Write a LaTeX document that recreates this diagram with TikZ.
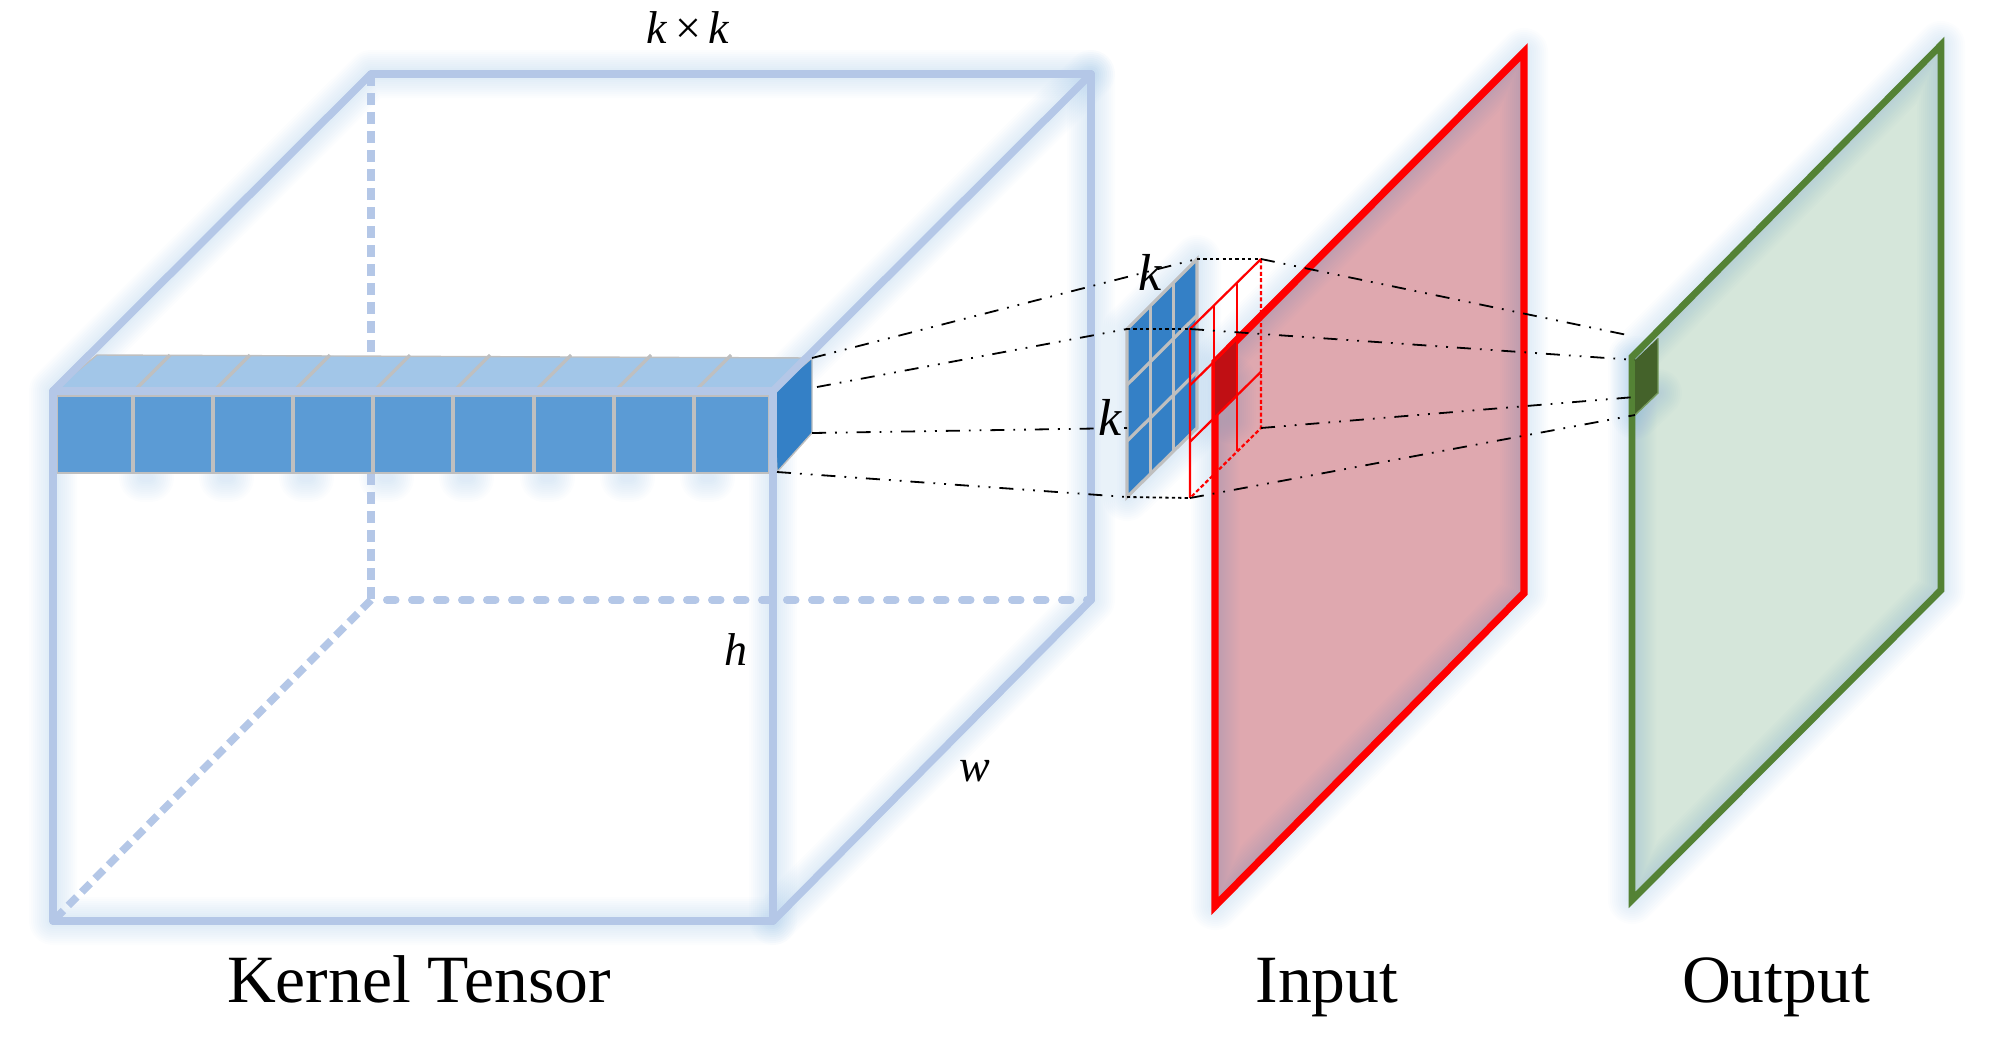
\documentclass[tikz,border=0pt]{standalone}
\usepackage{fontspec}
\setmainfont{Liberation Serif}
\usepackage{xcolor}
\usetikzlibrary{calc}
\definecolor{cubeblue}{HTML}{B4C7E7}
\definecolor{barblue}{HTML}{5B9BD5}
\definecolor{bartop}{HTML}{A2C6E8}
\definecolor{sideblue}{HTML}{3480C6}
\definecolor{gridgray}{HTML}{BFBFBF}
\definecolor{inputfill}{HTML}{DFA8AF}
\definecolor{outline}{HTML}{548235}
\definecolor{outputfill}{HTML}{D5E6DA}
\definecolor{darkgreen}{HTML}{44622A}
\definecolor{darkred}{HTML}{C00F14}
\newcommand{\glowpath}[1]{\foreach \w in {4,6,...,24} {\draw[glowline, line width=\w pt, shift={(7,10)}] #1;}}

\begin{document}
\begin{tikzpicture}[
    x=0.5pt, y=-0.5pt,
    cubeline/.style={draw=cubeblue, line width=3.8pt, line cap=round},
    cubedash/.style={draw=cubeblue, line width=3.8pt, dash pattern=on 6pt off 3.5pt},
    cubedots/.style={draw=cubeblue, line width=4pt, line cap=round, dash pattern=on 4.25pt off 8.25pt},
    gridline/.style={draw=gridgray, line width=1.6pt},
    barline/.style={draw=gridgray, line width=0.7pt},
    redline/.style={draw=red, line width=1.1pt},
    reddash/.style={draw=red, line width=1.1pt, dash pattern=on 2pt off 1.2pt},
    project/.style={draw=black, line width=0.9pt, dash pattern=on 7pt off 4.5pt on 0.9pt off 4.5pt on 0.9pt off 4.5pt},
    joinline/.style={draw=black, line width=0.9pt, dash pattern=on 1.6pt off 1.6pt},
    glowline/.style={draw=barblue, opacity=0.018, line join=round, line cap=round},
    caption/.style={font=\fontsize{33.8}{38}\selectfont, inner sep=0pt, anchor=base},
    dimlabel/.style={font=\fontsize{23}{26}\selectfont\itshape, inner sep=0pt},
    sizelabel/.style={font=\fontsize{26}{28}\selectfont\itshape, inner sep=0pt}
]
\useasboundingbox (0,0) rectangle (2006,1050);
% cube corners
\coordinate (ftl) at (53,391);
\coordinate (ftr) at (773,391);
\coordinate (fbl) at (53,921);
\coordinate (fbr) at (773,921);
\coordinate (btl) at (371,74);
\coordinate (btr) at (1091,74);
\coordinate (bbl) at (371,600);
\coordinate (bbr) at (1091,600);
% tube of the kernel tensor
\coordinate (side1) at (812,358);
\coordinate (side2) at (817,387);
\coordinate (side3) at (812,433);
\coordinate (side4) at (777,472);
% kernel
\coordinate (ka) at (1127,329);
\coordinate (kb) at (1197,259);
\coordinate (kc) at (1197,428);
\coordinate (kd) at (1127,497);
\coordinate (kl) at (1127,428);
% red window
\coordinate (ra) at (1190,329);
\coordinate (rb) at (1261,259);
\coordinate (rc) at (1261,428);
\coordinate (rd) at (1190,498);
% input plane
\coordinate (ia) at (1215,362);
\coordinate (ib) at (1524,52);
\coordinate (ic) at (1524,593);
\coordinate (id) at (1215,906);
% output plane
\coordinate (oa) at (1632,357);
\coordinate (ob) at (1941,45);
\coordinate (oc) at (1941,590);
\coordinate (od) at (1632,900);
% output pixel
\coordinate (ga) at (1635,360);
\coordinate (gb) at (1658,338);
\coordinate (gc) at (1658,393);
\coordinate (gd) at (1635,415);
\coordinate (gt) at (1632,336);
\coordinate (gm) at (1635,397);

% cube shadow
\glowpath{(fbl) -- (ftl) -- (btl) -- (btr) -- (bbr) -- (fbr) -- cycle}
\glowpath{(ftr) -- (btr)}
\glowpath{(ftr) -- (fbr)}
\foreach \i in {133,213,293,373,453,534,614,694} {
  \glowpath{(\i+3,468) -- (\i+10,468)}
}

% input and output planes
\fill[inputfill] (ia) -- (ib) -- (ic) -- (id) -- cycle;
\fill[outputfill] (oa) -- (ob) -- (oc) -- (od) -- cycle;
\glowpath{(ia) -- (ib) -- (ic) -- (id) -- cycle}
\glowpath{(oa) -- (ob) -- (oc) -- (od) -- cycle}
\glowpath{(ka) -- (kb) -- (kc) -- (kd) -- cycle}
\glowpath{(1225,370) -- (1225,410)}
\glowpath{(ga) -- (gd) -- (gc)}
\draw[red, line width=3.7pt, line join=miter] (ia) -- (ib) -- (ic) -- (id) -- cycle;
\draw[outline, line width=3.4pt, line join=miter] (oa) -- (ob) -- (oc) -- (od) -- cycle;

% hidden cube edges
\foreach \a/\b in {btl/bbl, bbl/fbl}
  \draw[cubedash] (\a) -- (\b);
\draw[cubedots] ($(bbl)+(16,0)$) -- (bbr);

% tube
\draw[barline, fill=bartop] (ftl) -- (97,355) -- (side1) -- (ftr) -- cycle;
\foreach \i in {133,213,293,373,453,534,614,694}
  \draw[gridline] (\i,392) -- (\i+37,355);
\draw[barline, fill=barblue] (57,396) rectangle (769,473);
\foreach \i in {133,213,293,373,453,534,614,694}
  \draw[gridline] (\i,396) -- (\i,473);
\draw[barline, fill=sideblue] (ftr) -- (side1) -- (side3) -- (side4) -- cycle;

% visible cube edges
\foreach \a/\b in {ftl/ftr, ftr/fbr, fbr/fbl, fbl/ftl, ftl/btl, btl/btr, btr/ftr, btr/bbr, bbr/fbr}
  \draw[cubeline] (\a) -- (\b);

% kernel grid
\draw[gridline, fill=sideblue] (ka) -- (kb) -- (kc) -- (kd) -- cycle;
\foreach \t in {0.333,0.667} {
  \draw[gridline] ($(ka)!\t!(kb)$) -- ($(kd)!\t!(kc)$);
  \draw[gridline] ($(ka)!\t!(kd)$) -- ($(kb)!\t!(kc)$);
}

% red window
\fill[darkred] (1213,360) -- (1237,338) -- (1237,397) -- (1213,420) -- cycle;
\draw[redline] (rd) -- (ra) -- (rb);
\draw[reddash] (rb) -- (rc) -- (rd);
\foreach \t in {0.333,0.667} {
  \draw[redline] ($(ra)!\t!(rb)$) -- ($(rd)!\t!(rc)$);
  \draw[redline] ($(ra)!\t!(rd)$) -- ($(rb)!\t!(rc)$);
}

% output pixel
\fill[darkgreen] (ga) -- (gb) -- (gc) -- (gd) -- cycle;
\draw[outline!80!white, line width=0.7pt] (gb) -- (gc) -- (gd);

% projection lines
\foreach \a/\b in {side1/kb, side2/ka, side3/kl, side4/kd, rb/gt, ra/ga, rc/gm, rd/gd}
  \draw[project] (\a) -- (\b);
\foreach \a/\b in {kb/rb, ka/ra, kd/rd}
  \draw[joinline] (\a) -- (\b);

% labels
\node[dimlabel] (kk) at (688,28) {k\,{\upshape×}\,k};
\node[dimlabel] (hlabel) at (736,650) {h};
\node[dimlabel] (wlabel) at (975,771) {w};
\node[sizelabel] (ktop) at (1150,272) {k};
\node[sizelabel] (kleft) at (1110,417) {k};
\node[caption] (kernel) at (419,1002) {Kernel Tensor};
\node[caption] (input) at (1327,1002) {Input};
\node[caption] (output) at (1776,1002) {Output};
\end{tikzpicture}
\end{document}
